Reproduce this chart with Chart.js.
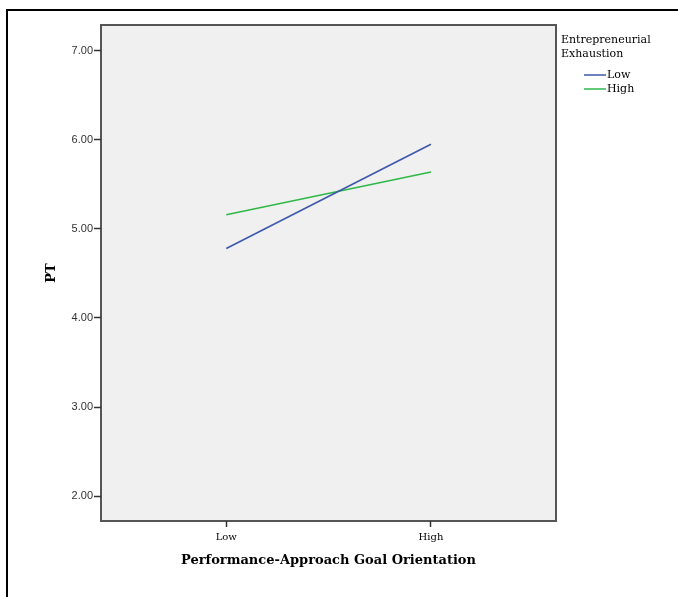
<!DOCTYPE html>
<html>
<head>
<meta charset="utf-8">
<script src="https://cdn.jsdelivr.net/npm/chart.js@4/dist/chart.umd.min.js"></script>
<style>
  html, body { margin: 0; padding: 0; background: #fff; }
  #wrap { position: relative; width: 678px; height: 597px; }
</style>
</head>
<body>
<div id="wrap"><canvas id="ptChart" width="678" height="597"></canvas></div>
<script>
// Performance-approach goal orientation (x) by entrepreneurial exhaustion (lines)
const goalLevels = ['Low', 'High'];
const exhaustionLevels = ['Low', 'High'];
const ptLowExhaustion = [4.78, 5.95];
const ptHighExhaustion = [5.16, 5.64];
const yTickValues = [2, 3, 4, 5, 6, 7];
const lineColors = ['#3e58ac', '#2eb848'];

const serif = '"DejaVu Serif", Georgia, serif';
const toPoints = vals => vals.map((v, i) => ({ x: i, y: v }));

// grey panel and its frame, plus the outer page border
const panelPlugin = {
    id: 'panel',
    beforeDraw(chart) {
        const { ctx, chartArea: a } = chart;
        ctx.save();
        ctx.fillStyle = '#fff';
        ctx.fillRect(0, 0, chart.width, chart.height);
        ctx.fillStyle = '#000';
        ctx.fillRect(6, 9, chart.width, 2);
        ctx.fillRect(6, 9, 2, chart.height);
        ctx.fillStyle = '#f0f0f0';
        ctx.fillRect(a.left, a.top, a.right - a.left, a.bottom - a.top);
        ctx.strokeStyle = '#555';
        ctx.lineWidth = 2;
        ctx.strokeRect(a.left, a.top, a.right - a.left, a.bottom - a.top);
        ctx.restore();
    }
};

// legend drawn at the right of the panel
const sideLegend = {
    id: 'sideLegend',
    afterDraw(chart) {
        const { ctx } = chart;
        ctx.save();
        ctx.font = '11px ' + serif;
        ctx.fillStyle = '#000';
        ctx.textBaseline = 'middle';
        ctx.fillText('Entrepreneurial', 561, 40);
        ctx.fillText('Exhaustion', 561, 54);
        chart.data.datasets.forEach((ds, i) => {
            const y = 75 + i * 14;
            ctx.strokeStyle = ds.borderColor;
            ctx.lineWidth = 1.5;
            ctx.beginPath();
            ctx.moveTo(584, y);
            ctx.lineTo(606, y);
            ctx.stroke();
            ctx.fillText(ds.label, 607, y);
        });
        ctx.restore();
    }
};

new Chart(document.getElementById('ptChart').getContext('2d'), {
    type: 'line',
    data: {
        datasets: [
            { label: exhaustionLevels[0], data: toPoints(ptLowExhaustion), borderColor: lineColors[0] },
            { label: exhaustionLevels[1], data: toPoints(ptHighExhaustion), borderColor: lineColors[1] }
        ]
    },
    options: {
        responsive: false,
        animation: false,
        devicePixelRatio: 1,
        layout: { padding: { top: 25, right: 122, left: 0, bottom: 0 } },
        elements: {
            line: { borderWidth: 1.6, tension: 0 },
            point: { radius: 0, hoverRadius: 0 }
        },
        plugins: { legend: { display: false }, tooltip: { enabled: false } },
        scales: {
            x: {
                type: 'linear',
                min: -0.612,
                max: 1.611,
                afterBuildTicks: s => { s.ticks = goalLevels.map((_, i) => ({ value: i })); },
                afterFit: s => { s.height = 76; },
                ticks: {
                    callback: v => goalLevels[v],
                    font: { family: serif, size: 10 },
                    color: '#000',
                    padding: 4,
                    maxRotation: 0
                },
                grid: { drawOnChartArea: false, tickLength: 6, color: '#333', tickWidth: 1.5 },
                border: { display: false },
                title: {
                    display: true,
                    text: 'Performance-Approach Goal Orientation',
                    font: { family: serif, size: 13, weight: 'bold' },
                    color: '#000',
                    padding: { top: 0, bottom: 29 }
                }
            },
            y: {
                min: 1.72,
                max: 7.29,
                afterBuildTicks: s => { s.ticks = yTickValues.map(v => ({ value: v })); },
                afterFit: s => { s.width = 101; },
                ticks: {
                    callback: v => v.toFixed(2),
                    font: { family: '"Liberation Sans", Arial, sans-serif', size: 11 },
                    color: '#333',
                    padding: 1
                },
                grid: { drawOnChartArea: false, tickLength: 7, color: '#333', tickWidth: 1.5 },
                border: { display: false },
                title: {
                    display: true,
                    text: 'PT',
                    font: { family: serif, size: 13, weight: 'bold' },
                    color: '#000',
                    padding: { top: 44, bottom: 0 }
                }
            }
        }
    },
    plugins: [panelPlugin, sideLegend]
});
</script>
</body>
</html>
